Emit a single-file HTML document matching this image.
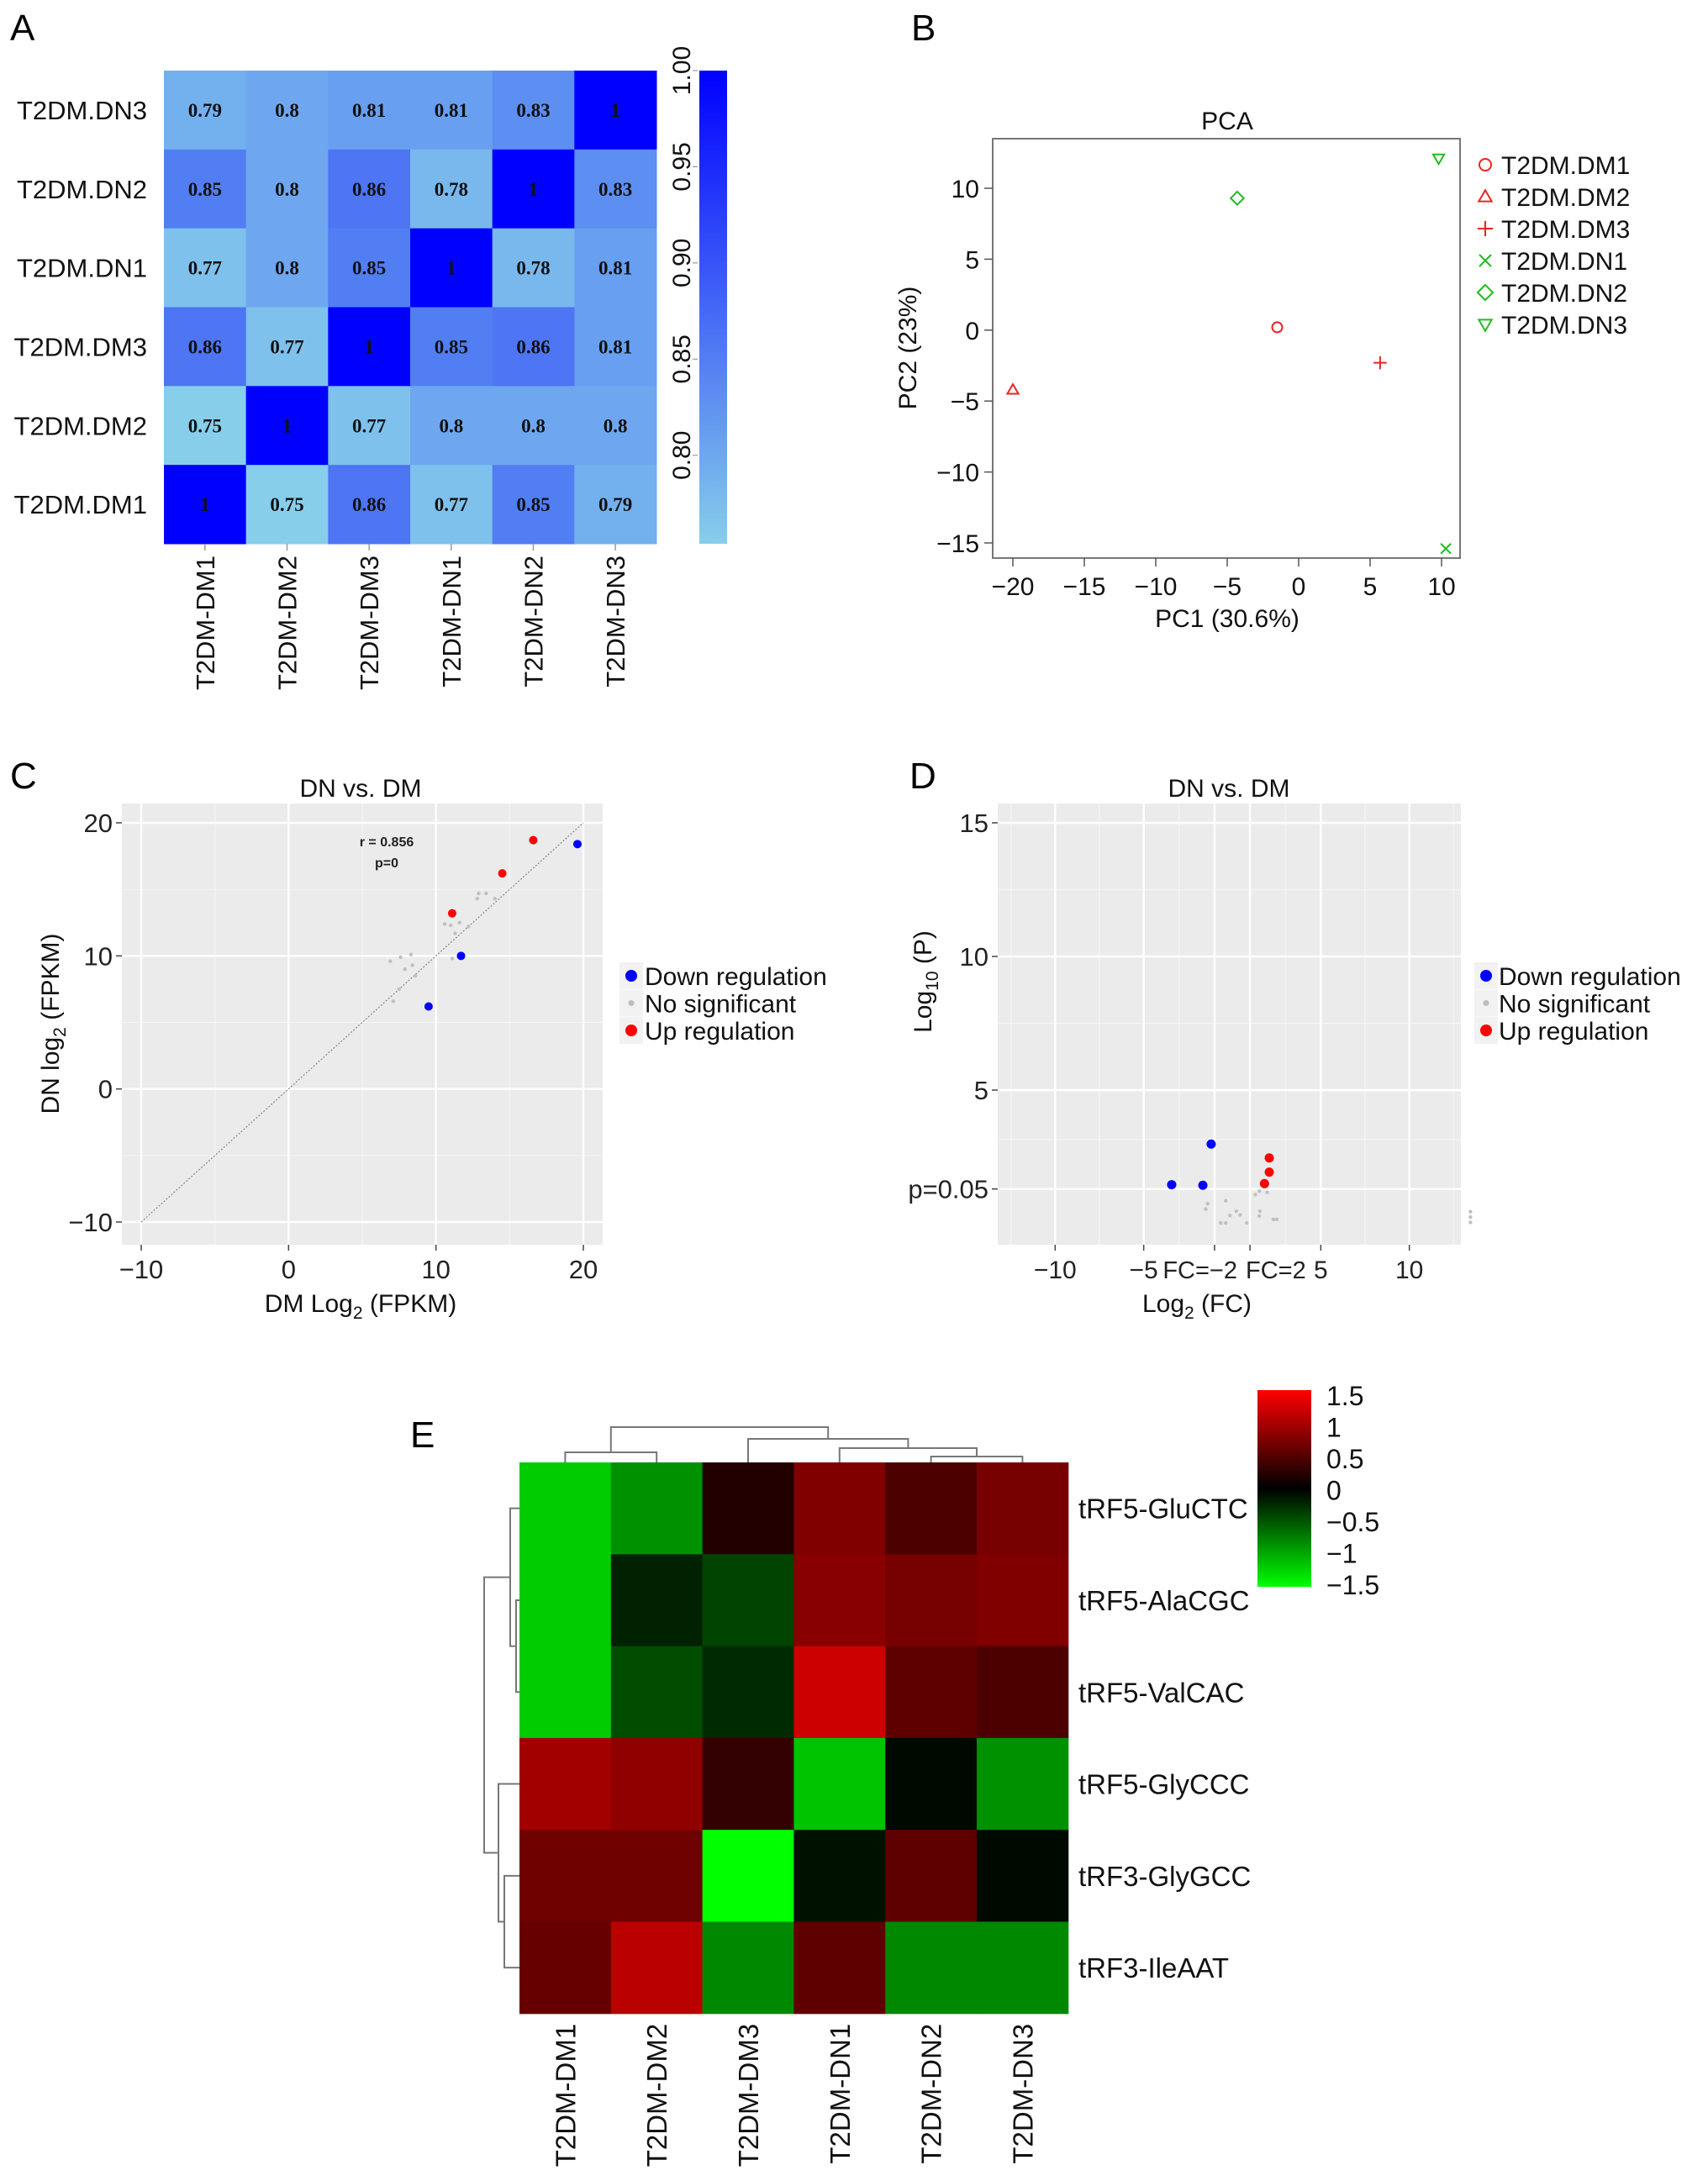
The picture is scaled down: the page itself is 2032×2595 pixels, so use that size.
<!DOCTYPE html>
<html><head><meta charset="utf-8"><title>tRF figure</title>
<style>
html,body{margin:0;padding:0;background:#fff;}
svg{display:block;font-family:"Liberation Sans",Arial,sans-serif;}
</style></head>
<body>
<svg id="fig" width="2032" height="2595" viewBox="0 0 2032 2595" xmlns="http://www.w3.org/2000/svg">
<defs>
<linearGradient id="gA" x1="0" y1="1" x2="0" y2="0"><stop offset="0" stop-color="rgb(135,206,235)"/><stop offset="1" stop-color="rgb(0,0,255)"/></linearGradient>
<linearGradient id="gE" x1="0" y1="1" x2="0" y2="0"><stop offset="0" stop-color="rgb(0,255,0)"/><stop offset="0.5" stop-color="rgb(0,0,0)"/><stop offset="1" stop-color="rgb(255,0,0)"/></linearGradient>
</defs>
<text x="12" y="48" font-size="44">A</text>
<text x="1084" y="48" font-size="44">B</text>
<text x="12" y="938" font-size="44">C</text>
<text x="1082" y="938" font-size="44">D</text>
<text x="488" y="1722" font-size="44">E</text>
<g id="pa"></g>
<g id="pb"></g>
<g id="pc"></g>
<g id="pd"></g>
<g id="pe"></g>
</svg>
<script>
// ---------- Panel A data ----------
const aRows = ['T2DM.DN3','T2DM.DN2','T2DM.DN1','T2DM.DM3','T2DM.DM2','T2DM.DM1'];
const aCols = ['T2DM-DM1','T2DM-DM2','T2DM-DM3','T2DM-DN1','T2DM-DN2','T2DM-DN3'];
const aVals = [
 [0.79,0.8,0.81,0.81,0.83,1],
 [0.85,0.8,0.86,0.78,1,0.83],
 [0.77,0.8,0.85,1,0.78,0.81],
 [0.86,0.77,1,0.85,0.86,0.81],
 [0.75,1,0.77,0.8,0.8,0.8],
 [1,0.75,0.86,0.77,0.85,0.79]];
const aTicks = [0.80,0.85,0.90,0.95,1.00];
// ---------- Panel B data ----------
const bNames = ['T2DM.DM1','T2DM.DM2','T2DM.DM3','T2DM.DN1','T2DM.DN2','T2DM.DN3'];
const bPC1 = [-1.5,-20,5.7,10.3,-4.3,9.8];
const bPC2 = [0.2,-4.2,-2.3,-15.4,9.3,12.1];
const bXTicks = [-20,-15,-10,-5,0,5,10];
const bYTicks = [-15,-10,-5,0,5,10];
// ---------- Panel C data ----------
const cUpX = [11.1,14.5,16.6];
const cUpY = [13.2,16.2,18.7];
const cDownX = [9.5,11.7,19.6];
const cDownY = [6.2,10.0,18.4];
const cNsX = [6.9,7.6,8.3,8.4,7.9,8.6,7.5,7.1,10.6,11.0,11.3,11.6,12.2,12.9,13.4,14.0,12.8,11.1];
const cNsY = [9.6,9.9,10.1,9.3,9.0,8.5,7.5,6.6,12.4,12.3,11.7,12.5,12.2,14.7,14.7,14.3,14.3,9.8];
const cTicks = [-10,0,10,20];
// ---------- Panel D data ----------
const dUpX = [2.09,2.09,1.82];
const dUpY = [2.46,1.93,1.5];
const dDownX = [-3.42,-1.66,-1.19];
const dDownY = [1.46,1.44,2.98];
const dNsX = [-1.39,-1.5,-0.37,-0.13,0.23,0.45,-0.65,-0.37,0.82,1.3,1.53,1.97,1.56,1.53,2.32,2.51,13.45,13.45,13.45];
const dNsY = [0.75,0.55,0.86,0.31,0.47,0.33,0.03,0.03,0.03,1.09,1.22,1.17,0.47,0.29,0.16,0.16,0.45,0.25,0.05];
const dXTicks = [-10,-5,5,10];
const dYTicks = [5,10,15];
// ---------- Panel E data ----------
const eRows = ['tRF5-GluCTC','tRF5-AlaCGC','tRF5-ValCAC','tRF5-GlyCCC','tRF3-GlyGCC','tRF3-IleAAT'];
const eCols = ['T2DM-DM1','T2DM-DM2','T2DM-DM3','T2DM-DN1','T2DM-DN2','T2DM-DN3'];
const eVals = [
 [-1.2,-0.85,0.2,0.75,0.45,0.7],
 [-1.2,-0.2,-0.4,0.8,0.7,0.75],
 [-1.2,-0.45,-0.25,1.2,0.55,0.45],
 [0.95,0.85,0.3,-1.15,-0.05,-0.85],
 [0.65,0.65,-1.5,-0.1,0.55,-0.05],
 [0.6,1.1,-0.8,0.55,-0.8,-0.8]];
const eTicks = [1.5,1,0.5,0,-0.5,-1,-1.5];
const eTickLabels = ['1.5','1','0.5','0','\u22120.5','\u22121','\u22121.5'];

const NS='http://www.w3.org/2000/svg';
function mk(tag, attrs, parent){const e=document.createElementNS(NS,tag);for(const k in attrs)e.setAttribute(k,attrs[k]);(parent||document.getElementById('fig')).appendChild(e);return e;}
function txt(s, attrs, parent){const e=mk('text',attrs,parent);e.textContent=s;return e;}
function fmt(v){return v<0?'\u2212'+Math.abs(v):String(v);}
let el;

// ================= Panel A =================
(function(){
 const g=document.getElementById('pa');
 const X0=195,X1=781,Y0=84,Y1=647;
 const cw=(X1-X0)/aCols.length, ch=(Y1-Y0)/aRows.length;
 const vmin=0.754,vmax=1.0;
 function col(v){const t=Math.max(0,Math.min(1,(v-vmin)/(vmax-vmin)));return 'rgb('+Math.round(135*(1-t))+','+Math.round(206*(1-t))+','+Math.round(235+20*t)+')';}
 const cbY=v=>Y1-(v-vmin)/(vmax-vmin)*(Y1-Y0);
 aRows.forEach((r,i)=>{
  aCols.forEach((c,j)=>{
   el=mk('rect',{x:X0+j*cw,y:Y0+i*ch,width:cw+0.5,height:ch+0.5,fill:col(aVals[i][j])},g);
   
   
   el=txt(String(aVals[i][j]),{x:X0+j*cw+cw/2,y:Y0+i*ch+ch/2+8,'text-anchor':'middle','font-size':23,'font-weight':'bold','font-family':'"Liberation Serif",serif',fill:'#111'},g);
   
   
  });
  el=txt(r,{x:175,y:Y0+i*ch+ch/2+11,'text-anchor':'end','font-size':31,fill:'#111'},g);
  
  
 });
 aCols.forEach((c,j)=>{
  const cx=X0+j*cw+cw/2;
  el=mk('line',{x1:cx,y1:Y1,x2:cx,y2:Y1+8,stroke:'#999','stroke-width':1.5},g);
  
  
  el=txt(c,{x:0,y:0,transform:'translate('+(cx+11)+','+(Y1+14)+') rotate(-90)','text-anchor':'end','font-size':31,fill:'#111'},g);
  
  
 });
 el=mk('rect',{x:832,y:Y0,width:33,height:Y1-Y0,fill:'url(#gA)'},g);
 
 
 aTicks.forEach(t=>{
  const y=cbY(t);
  el=mk('line',{x1:824,y1:y,x2:830,y2:y,stroke:'#999','stroke-width':1.2},g);
  
  
  el=txt(t.toFixed(2),{x:0,y:0,transform:'translate(821,'+y+') rotate(-90)','text-anchor':'middle','font-size':30,fill:'#111'},g);
  
  
 });
})();

// ================= Panel B =================
(function(){
 const g=document.getElementById('pb');
 const L=1181,R=1737,T=165,B=664;
 const sx=v=>1205+(v+20)*(1715-1205)/30, sy=v=>224-(v-10)*(646-224)/25;
 el=mk('rect',{x:L,y:T,width:R-L,height:B-T,fill:'none',stroke:'#777','stroke-width':2},g);
 
 
 el=txt('PCA',{x:1460,y:154,'text-anchor':'middle','font-size':30,fill:'#111'},g);
 
 
 bXTicks.forEach(t=>{
  el=mk('line',{x1:sx(t),y1:B,x2:sx(t),y2:B+10,stroke:'#555','stroke-width':1.5},g);
  
  
  el=txt(fmt(t),{x:sx(t),y:B+44,'text-anchor':'middle','font-size':30,fill:'#111'},g);
  
  
 });
 bYTicks.forEach(t=>{
  el=mk('line',{x1:L-10,y1:sy(t),x2:L,y2:sy(t),stroke:'#555','stroke-width':1.5},g);
  
  
  el=txt(fmt(t),{x:L-16,y:sy(t)+11,'text-anchor':'end','font-size':30,fill:'#111'},g);
  
  
 });
 el=txt('PC1 (30.6%)',{x:1460,y:746,'text-anchor':'middle','font-size':30,fill:'#111'},g);
 
 
 el=txt('PC2 (23%)',{x:0,y:0,transform:'translate(1090,414) rotate(-90)','text-anchor':'middle','font-size':30,fill:'#111'},g);
 
 
 const colors=['#ee2222','#ee2222','#ee2222','#22bb22','#22bb22','#22bb22'];
 function sym(i,x,y,s){
  const c=colors[i];const st={fill:'none',stroke:c,'stroke-width':2};
  let e;
  if(i===0) e=mk('circle',Object.assign({cx:x,cy:y,r:s},st),g);
  else if(i===1) e=mk('polygon',Object.assign({points:[x,y-s*1.1,x-s*1.1,y+s*0.8,x+s*1.1,y+s*0.8].join(' ')},st),g);
  else if(i===2) e=mk('path',Object.assign({d:'M'+(x-s*1.3)+' '+y+'H'+(x+s*1.3)+'M'+x+' '+(y-s*1.3)+'V'+(y+s*1.3)},st),g);
  else if(i===3) e=mk('path',Object.assign({d:'M'+(x-s)+' '+(y-s)+'L'+(x+s)+' '+(y+s)+'M'+(x+s)+' '+(y-s)+'L'+(x-s)+' '+(y+s)},st),g);
  else if(i===4) e=mk('polygon',Object.assign({points:[x,y-s*1.3,x+s*1.3,y,x,y+s*1.3,x-s*1.3,y].join(' ')},st),g);
  else e=mk('polygon',Object.assign({points:[x-s*1.1,y-s*0.8,x+s*1.1,y-s*0.8,x,y+s*1.1].join(' ')},st),g);
  return e;
 }
 bNames.forEach((n,i)=>{
  el=sym(i,sx(bPC1[i]),sy(bPC2[i]),6);
  
  
  const ly=196+i*38;
  el=sym(i,1767,ly,7);
  
  
  el=txt(n,{x:1786,y:ly+11,'font-size':30,fill:'#111'},g);
  
  
 });
})();

// ================= shared ggplot helpers =================
function ggPanel(g,L,R,T,B,sx,sy,xMajor,yMajor,xMinor,yMinor){
 el=mk('rect',{x:L,y:T,width:R-L,height:B-T,fill:'#ebebeb'},g);
 
 
 xMinor.forEach(v=>{el=mk('line',{x1:sx(v),y1:T,x2:sx(v),y2:B,stroke:'#f5f5f5','stroke-width':1.2},g);});
 yMinor.forEach(v=>{el=mk('line',{x1:L,y1:sy(v),x2:R,y2:sy(v),stroke:'#f5f5f5','stroke-width':1.2},g);});
 xMajor.forEach(v=>{el=mk('line',{x1:sx(v),y1:T,x2:sx(v),y2:B,stroke:'#fff','stroke-width':2.4},g);});
 yMajor.forEach(v=>{el=mk('line',{x1:L,y1:sy(v),x2:R,y2:sy(v),stroke:'#fff','stroke-width':2.4},g);});
}
function legendGG(g,kx,tx){
 const labs=['Down regulation','No significant','Up regulation'];
 const cols=['#0000ff','#bdbdbd','#ff0000'];
 const rs=[7,3.5,7];
 labs.forEach((l,i)=>{
  const y=1161+i*32.5;
  el=mk('rect',{x:kx-14,y:y-16,width:28,height:32,fill:'#f2f2f2'},g);
  
  
  el=mk('circle',{cx:kx,cy:y,r:rs[i],fill:cols[i]},g);
  
  
  el=txt(l,{x:tx,y:y+11,'font-size':30,fill:'#111'},g);
  
  
 });
}

// ================= Panel C =================
(function(){
 const g=document.getElementById('pc');
 const L=145,R=717,T=956,B=1481;
 const xPer=(694-168)/30, yPer=(1454-979)/30;
 const sx=v=>168+(v+10)*xPer, sy=v=>979-(v-20)*yPer;
 ggPanel(g,L,R,T,B,sx,sy,cTicks,cTicks,[-5,5,15],[-5,5,15]);
 el=mk('line',{x1:sx(-10),y1:sy(-10),x2:sx(20),y2:sy(20),stroke:'#888','stroke-width':1.2,'stroke-dasharray':'2 2'},g);
 
 
 cNsX.forEach((x,i)=>{el=mk('circle',{cx:sx(x),cy:sy(cNsY[i]),r:2.2,fill:'#c0c0c0'},g);});
 cDownX.forEach((x,i)=>{el=mk('circle',{cx:sx(x),cy:sy(cDownY[i]),r:5,fill:'#0000ff'},g);});
 cUpX.forEach((x,i)=>{el=mk('circle',{cx:sx(x),cy:sy(cUpY[i]),r:5,fill:'#ff0000'},g);});
 el=txt('r =  0.856',{x:460,y:1007,'text-anchor':'middle','font-size':16,'font-weight':'bold',fill:'#222'},g);
 
 
 el=txt('p=0',{x:460,y:1032,'text-anchor':'middle','font-size':16,'font-weight':'bold',fill:'#222'},g);
 
 
 cTicks.forEach(t=>{
  el=mk('line',{x1:sx(t),y1:B,x2:sx(t),y2:B+7,stroke:'#444','stroke-width':1.5},g);
  el=txt(fmt(t),{x:sx(t),y:B+40,'text-anchor':'middle','font-size':31,fill:'#222'},g);
  el=mk('line',{x1:L-7,y1:sy(t),x2:L,y2:sy(t),stroke:'#444','stroke-width':1.5},g);
  el=txt(fmt(t),{x:L-11,y:sy(t)+11,'text-anchor':'end','font-size':31,fill:'#222'},g);
 });
 el=txt('DN vs. DM',{x:429,y:948,'text-anchor':'middle','font-size':30,fill:'#111'},g);
 
 
 el=mk('text',{x:429,y:1561,'text-anchor':'middle','font-size':30,fill:'#111'},g);
 el.innerHTML='DM Log<tspan font-size="21" dy="8">2</tspan><tspan dy="-8"> (FPKM)</tspan>';
 
 
 el=mk('text',{x:0,y:0,transform:'translate(70,1218) rotate(-90)','text-anchor':'middle','font-size':30,fill:'#111'},g);
 el.innerHTML='DN log<tspan font-size="21" dy="8">2</tspan><tspan dy="-8"> (FPKM)</tspan>';
 
 
 legendGG(g,751,767);
})();

// ================= Panel D =================
(function(){
 const g=document.getElementById('pd');
 const L=1187,R=1738,T=956,B=1481;
 const xPer=21.07, x0=1466, yPer=31.8, y0=1456;
 const sx=v=>x0+v*xPer, sy=v=>y0-v*yPer;
 ggPanel(g,L,R,T,B,sx,sy,[-10,-5,-1,1,5,10],[1.3,5,10,15],[-12.5,-7.5,-3,3,7.5,12.5],[3.15,7.5,12.5]);
 dNsX.forEach((x,i)=>{el=mk('circle',{cx:sx(x),cy:sy(dNsY[i]),r:2.2,fill:'#c0c0c0'},g);});
 dDownX.forEach((x,i)=>{el=mk('circle',{cx:sx(x),cy:sy(dDownY[i]),r:5.5,fill:'#0000ff'},g);});
 dUpX.forEach((x,i)=>{el=mk('circle',{cx:sx(x),cy:sy(dUpY[i]),r:5.5,fill:'#ff0000'},g);});
 [-10,-5,-1,1,5,10].forEach(t=>{el=mk('line',{x1:sx(t),y1:B,x2:sx(t),y2:B+7,stroke:'#444','stroke-width':1.5},g);});
 dXTicks.forEach(t=>{
  el=txt(fmt(t),{x:sx(t),y:B+40,'text-anchor':'middle','font-size':30,fill:'#222'},g);
 });
 el=txt('FC=\u22122',{x:sx(0)+6,y:B+40,'text-anchor':'end','font-size':29,fill:'#222'},g);
 
 
 el=txt('FC=2',{x:sx(0)+16,y:B+40,'text-anchor':'start','font-size':29,fill:'#222'},g);
 
 
 dYTicks.concat([1.3]).forEach(t=>{
  el=mk('line',{x1:L-7,y1:sy(t),x2:L,y2:sy(t),stroke:'#444','stroke-width':1.5},g);
  el=txt(t===1.3?'p=0.05':String(t),{x:L-11,y:sy(t)+11,'text-anchor':'end','font-size':31,fill:'#222'},g);
 });
 el=txt('DN vs. DM',{x:1462,y:948,'text-anchor':'middle','font-size':30,fill:'#111'},g);
 
 
 el=mk('text',{x:1424,y:1561,'text-anchor':'middle','font-size':30,fill:'#111'},g);
 el.innerHTML='Log<tspan font-size="21" dy="8">2</tspan><tspan dy="-8"> (FC)</tspan>';
 
 
 el=mk('text',{x:0,y:0,transform:'translate(1108,1168) rotate(-90)','text-anchor':'middle','font-size':30,fill:'#111'},g);
 el.innerHTML='Log<tspan font-size="21" dy="8">10</tspan><tspan dy="-8"> (P)</tspan>';
 
 
 legendGG(g,1768,1783);
})();

// ================= Panel E =================
(function(){
 const g=document.getElementById('pe');
 const X0=618,Y0=1740,cw=108.8,ch=109.3;
 function col(v){const t=Math.max(-1,Math.min(1,v/1.5));return t>=0?'rgb('+Math.round(255*t)+',0,0)':'rgb(0,'+Math.round(-255*t)+',0)';}
 eRows.forEach((r,i)=>{
  eCols.forEach((c,j)=>{
   el=mk('rect',{x:X0+j*cw,y:Y0+i*ch,width:cw+0.5,height:ch+0.5,fill:col(eVals[i][j])},g);
   
   
  });
  el=txt(r,{x:1283,y:Y0+i*ch+ch/2+12,'font-size':33,fill:'#111'},g);
  
  
 });
 eCols.forEach((c,j)=>{
  el=txt(c,{x:0,y:0,transform:'translate('+(X0+j*cw+cw/2+12)+','+(Y0+6*ch+12)+') rotate(-90)','text-anchor':'end','font-size':33,fill:'#111'},g);
  
  
 });
 const cx=j=>X0+j*cw+cw/2, ry=i=>Y0+i*ch+ch/2;
 const st={fill:'none',stroke:'#777','stroke-width':2};
 const colD='M'+cx(0)+' '+Y0+'V1728H'+cx(1)+'V'+Y0+
  'M'+cx(4)+' '+Y0+'V1733H'+cx(5)+'V'+Y0+
  'M'+cx(3)+' '+Y0+'V1723H'+((cx(4)+cx(5))/2)+'V1733'+
  'M'+cx(2)+' '+Y0+'V1712H'+((cx(3)+(cx(4)+cx(5))/2)/2)+'V1723'+
  'M'+((cx(0)+cx(1))/2)+' 1728V1698H'+((cx(2)+(cx(3)+(cx(4)+cx(5))/2)/2)/2)+'V1712';
 el=mk('path',Object.assign({d:colD},st),g);
 
 
 const rowD='M'+X0+' '+ry(1)+'H614V'+ry(2)+'H'+X0+
  'M'+X0+' '+ry(0)+'H607V'+((ry(1)+ry(2))/2)+'H614'+
  'M'+X0+' '+ry(4)+'H600V'+ry(5)+'H'+X0+
  'M'+X0+' '+ry(3)+'H593V'+((ry(4)+ry(5))/2)+'H600'+
  'M607 '+((ry(0)+(ry(1)+ry(2))/2)/2)+'H576V'+((ry(3)+(ry(4)+ry(5))/2)/2)+'H593';
 el=mk('path',Object.assign({d:rowD},st),g);
 
 
 el=mk('rect',{x:1496,y:1654,width:64,height:234,fill:'url(#gE)'},g);
 
 
 const cy=v=>1772.5-v*75;
 eTicks.forEach((t,k)=>{
  el=txt(eTickLabels[k],{x:1578,y:cy(t)+12,'font-size':32,fill:'#111'},g);
  
  
 });
})();
</script>
</body></html>
